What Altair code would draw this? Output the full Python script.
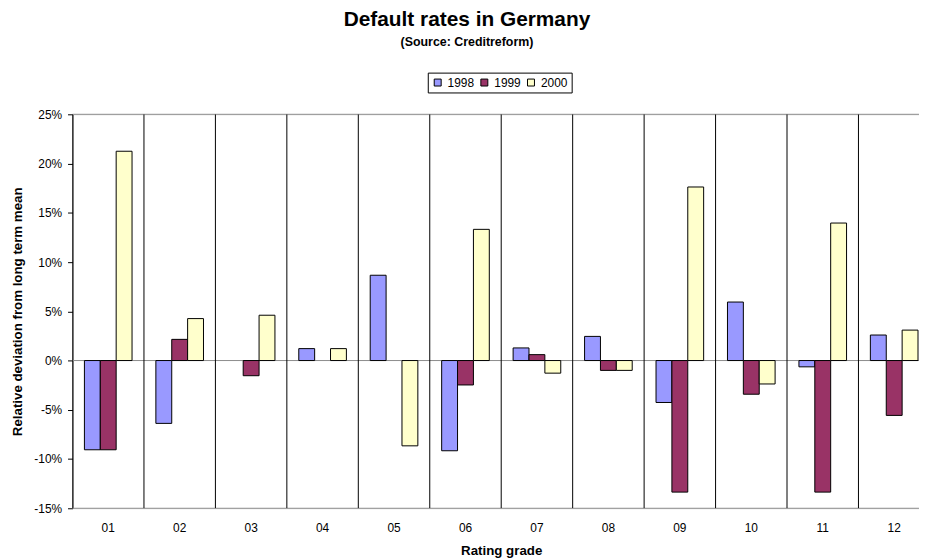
import altair as alt
import pandas as pd

# ---- data ----
grades = ["01", "02", "03", "04", "05", "06", "07", "08", "09", "10", "11", "12"]
years = ["1998", "1999", "2000"]
v1998 = [-9.06, -6.38, None, 1.21, 8.66, -9.16, 1.28, 2.45, -4.26, 5.94, -0.64, 2.59]
v1999 = [-9.06, 2.15, -1.54, None, None, -2.48, 0.60, -1.00, -13.36, -3.42, -13.36, -5.57]
v2000 = [21.25, 4.26, 4.60, 1.21, -8.66, 13.32, -1.28, -1.00, 17.62, -2.38, 13.96, 3.09]
colors = ["#9999FF", "#993366", "#FFFFCC"]
y_ticks = [-15, -10, -5, 0, 5, 10, 15, 20, 25]
h_lines = [25, 0, -15]

rows = []
for yr, vals in zip(years, [v1998, v1999, v2000]):
    for g, v in zip(grades, vals):
        if v is not None:
            rows.append({"grade": g, "year": yr, "value": v})
df = pd.DataFrame(rows)
div_df = pd.DataFrame({"grade": grades, "lo": [-15] * len(grades), "hi": [25] * len(grades)})
h_df = pd.DataFrame({"value": h_lines})

FONT = "Liberation Sans"
W, H = 853, 397

xscale = alt.Scale(domain=grades, rangeMin=0, rangeMax=864, paddingInner=0, paddingOuter=0)
yscale = alt.Scale(domain=[-15, 25], nice=False, zero=False)

x_axis = alt.Axis(
    title="Rating grade", labelAngle=0, ticks=False, tickSize=0, domain=False, grid=False,
    labelPadding=19, labelBaseline="middle", labelFont=FONT, labelFontSize=12, labelColor="black",
    titleFont=FONT, titleFontSize=13.4, titleFontWeight="bold", titleColor="black",
    titleX=432, titleY=43, titleAlign="center", titleBaseline="middle",
)
y_axis = alt.Axis(
    values=y_ticks, labelExpr="datum.value + '%'", title="Relative deviation from long term mean",
    grid=False, domainColor="black", domainWidth=1, tickColor="black", tickWidth=1, tickSize=5,
    labelPadding=6, labelFont=FONT, labelFontSize=12, labelColor="black",
    titleFont=FONT, titleFontSize=13.4, titleFontWeight="bold", titleColor="black",
    titleX=-55, titleY=198.5, titleAngle=270, titleAlign="center", titleBaseline="middle",
)

hl = alt.Chart(h_df).mark_rule(color="#8c8c8c", strokeWidth=1).encode(
    y=alt.Y("value:Q", scale=yscale, axis=y_axis),
    x=alt.value(0),
    x2=alt.value(W),
)

dividers = alt.Chart(div_df).mark_rule(color="black", strokeWidth=1, clip=True).encode(
    x=alt.X("grade:N", scale=xscale, sort=grades, bandPosition=0, axis=x_axis),
    y=alt.Y("lo:Q", scale=yscale, axis=y_axis),
    y2="hi:Q",
)

bars = alt.Chart(df).mark_bar(stroke="black", strokeWidth=1, clip=True).encode(
    x=alt.X("grade:N", scale=xscale, sort=grades, axis=x_axis),
    xOffset=alt.XOffset("year:N", sort=years,
                        scale=alt.Scale(domain=years, paddingInner=0, paddingOuter=0.75)),
    y=alt.Y("value:Q", scale=yscale, axis=y_axis),
    color=alt.Color(
        "year:N", sort=years, scale=alt.Scale(domain=years, range=colors),
        legend=alt.Legend(
            title=None, orient="none", legendX=358, legendY=-42, direction="horizontal",
            strokeColor="black", fillColor="white", padding=4,
            symbolType="square", symbolSize=49, symbolStrokeColor="black", symbolStrokeWidth=1,
            symbolOpacity=1, labelFont=FONT, labelFontSize=12, labelColor="black",
            labelOffset=4, columnPadding=4,
        ),
    ),
)

chart = alt.layer(hl, dividers, bars).properties(
    width=W,
    height=H,
    autosize=alt.AutoSizeParams(type="none"),
    padding={"left": 65, "top": 105, "right": 0, "bottom": 50},
    title=alt.TitleParams(
        text="Default rates in Germany", subtitle="(Source: Creditreform)",
        anchor="middle", frame="group", dx=-29,
        font=FONT, fontSize=21, fontWeight="bold", color="black",
        subtitleFont=FONT, subtitleFontSize=12.5, subtitleFontWeight="bold", subtitleColor="black",
        subtitlePadding=6, offset=24,
    ),
).configure_view(stroke=None).configure(background="white")

chart.save("out.html", embed_options={"renderer": "svg", "actions": False})
